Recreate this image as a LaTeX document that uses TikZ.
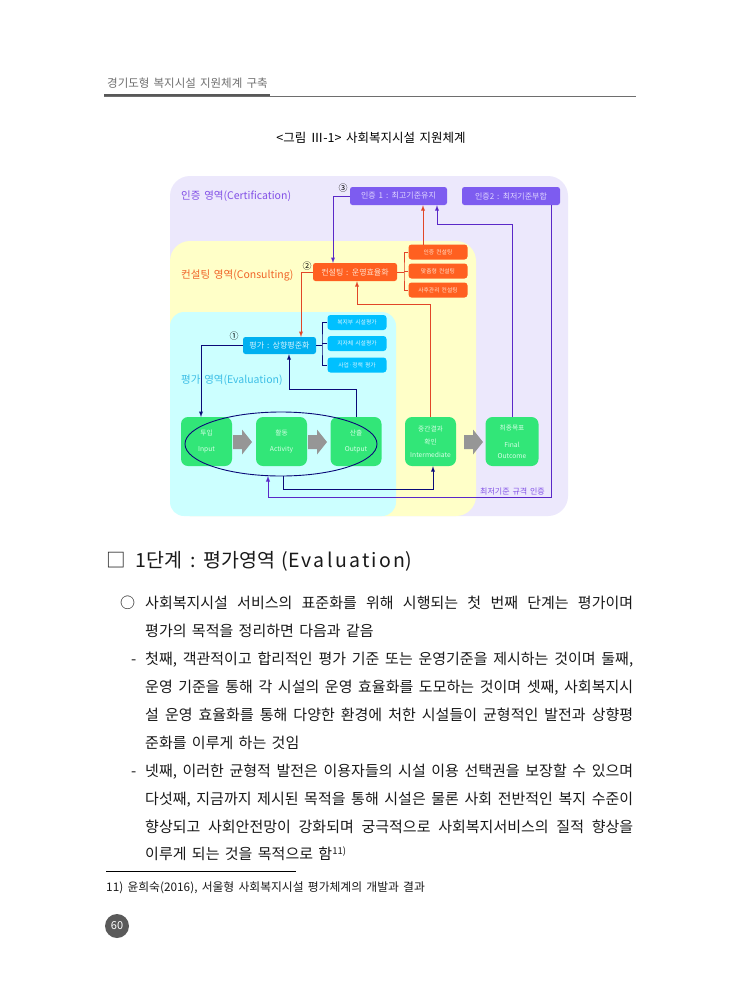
\documentclass[tikz,border=0pt]{standalone}
\usepackage{fontspec}
\setmainfont{Noto Sans CJK KR}[WordSpace={1.6,2,2}]
\usetikzlibrary{shapes.geometric}
\definecolor{certbg}{RGB}{236,232,252}
\definecolor{consbg}{RGB}{255,255,200}
\definecolor{evalbg}{RGB}{204,255,255}
\definecolor{certfill}{RGB}{125,92,240}
\definecolor{consfill}{RGB}{255,96,32}
\definecolor{evalfill}{RGB}{0,176,240}
\definecolor{subevalfill}{RGB}{0,192,255}
\definecolor{stagefill}{RGB}{50,230,120}
\definecolor{certpale}{RGB}{225,215,255}
\definecolor{conspale}{RGB}{255,225,205}
\definecolor{evalpale}{RGB}{215,245,255}
\definecolor{stagepale}{RGB}{215,255,230}
\definecolor{certtext}{RGB}{130,80,230}
\definecolor{constext}{RGB}{240,100,40}
\definecolor{evaltext}{RGB}{60,190,230}
\definecolor{certink}{RGB}{90,40,200}
\definecolor{consink}{RGB}{225,70,40}
\definecolor{navy}{RGB}{10,10,120}
\definecolor{arrowgray}{RGB}{150,150,150}
\definecolor{headgray}{RGB}{110,110,110}
\definecolor{pagegray}{RGB}{90,90,90}
\tikzset{
	arealabel/.style={anchor=west, inner sep=0, font=\fontsize{10.5}{12}\selectfont},
	mainbox/.style={rounded corners=2.5, inner sep=0, minimum height=18, font=\fontsize{8}{9}\selectfont},
	subbox/.style={rounded corners=3, inner sep=0, minimum width=59, minimum height=15, font=\fontsize{5.8}{7}\selectfont},
	stagebox/.style={rounded corners=7, inner sep=0, fill=stagefill, text=stagepale, minimum width=51, minimum height=49, align=center, font=\fontsize{6.7}{8}\selectfont},
	certline/.style={certink, line width=0.9},
	consline/.style={consink, line width=0.9},
	evalline/.style={navy, line width=0.9},
	bodytext/.style={anchor=base west, inner sep=0, text=black!90, font=\fontsize{15}{17}\selectfont},
}

\begin{document}
\begin{tikzpicture}[x=1pt,y=-1pt]
	\useasboundingbox (0,0) rectangle (741,1005);
	\fill[white] (0,0) rectangle (741,1005);
	% page header
	\node[anchor=west, inner sep=0, text=headgray, font=\fontsize{11.5}{13}\selectfont] (runhead) at (107,83) {경기도형 복지시설 지원체계 구축};
	\draw[headgray, line width=0.8] (104,96) -- (636,96);
	\draw[headgray!80!black, line width=2.5] (104,95) -- (270,95);
	% caption
	\node[inner sep=0, font=\fontsize{12.5}{14}\selectfont] (caption) at (371,138) {<그림 Ⅲ-1> 사회복지시설 지원체계};
	% areas
	\fill[certbg, rounded corners=20] (170,176) rectangle (568,516);
	\fill[consbg, rounded corners=20] (170,241) rectangle (476,516);
	\fill[evalbg, rounded corners=14] (170,312) rectangle (396,516);
	\node[arealabel, text=certtext] (certlabel) at (181,196) {인증 영역(Certification)};
	\node[arealabel, text=constext] (conslabel) at (181,275) {컨설팅 영역(Consulting)};
	\node[arealabel, text=evaltext] (evallabel) at (181,380) {평가 영역(Evaluation)};
	\node[anchor=west, inner sep=0, text=certtext, font=\fontsize{8}{9}\selectfont] (minlabel) at (480,491) {최저기준 규격 인증};
	% certification
	\node[mainbox, fill=certfill, text=certpale, minimum width=97] (cert1) at (398.5,196) {인증 1 : 최고기준유지};
	\node[mainbox, fill=certfill, text=certpale, minimum width=98] (cert2) at (511,196) {인증2 : 최저기준부합};
	\node[inner sep=0, font=\fontsize{9}{9}\selectfont] (n3) at (343,188) {③};
	% consulting
	\node[mainbox, fill=consfill, text=conspale, minimum width=84] (cons) at (355,272) {컨설팅 : 운영효율화};
	\node[subbox, fill=consfill, text=conspale] (consA) at (438,252) {인증 컨설팅};
	\node[subbox, fill=consfill, text=conspale] (consB) at (438,271) {맞춤형 컨설팅};
	\node[subbox, fill=consfill, text=conspale] (consC) at (438,290) {사후관리 컨설팅};
	\node[inner sep=0, font=\fontsize{9}{9}\selectfont] (n2) at (307,266) {②};
	% evaluation
	\node[mainbox, fill=evalfill, text=evalpale, minimum width=73, minimum height=17] (eval) at (279.5,345.5) {평가 : 상향평준화};
	\node[subbox, fill=subevalfill, text=evalpale] (evalA) at (357,322.5) {복지부 시설평가};
	\node[subbox, fill=subevalfill, text=evalpale] (evalB) at (357,343.5) {지자체 시설평가};
	\node[subbox, fill=subevalfill, text=evalpale] (evalC) at (357,365) {사업·정책 평가};
	\node[inner sep=0, font=\fontsize{9}{9}\selectfont] (n1) at (234,336) {①};
	% stages
	\node[stagebox] (input) at (206.5,441.5) {투입\\[8pt]Input};
	\node[stagebox] (activity) at (281.5,441.5) {활동\\[8pt]Activity};
	\node[stagebox] (output) at (356,441.5) {산출\\[8pt]Output};
	\node[stagebox] (inter) at (430.5,441.5) {중간결과\\[5pt]확인\\[5pt]Intermediate};
	\node[stagebox, minimum width=53] (final) at (512,441.5) {최종목표\\[9pt]Final\\[3pt]Outcome};
	\foreach \ax in {233,308,464}
		\fill[arrowgray] (\ax,435) -- ++(9,0) -- ++(0,-5.5) -- ++(10,12.5) -- ++(-10,12.5) -- ++(0,-5.5) -- ++(-9,0) -- cycle;
	\node[draw=navy, line width=0.9, ellipse, inner sep=0, minimum width=192, minimum height=64] (loop) at (281,444) {};
	% connectors
	\coordinate (c3) at (333,263);
	\coordinate (r1) at (423,244.5);
	\coordinate (b1) at (437,224);
	\coordinate (p1) at (551,205);
	\coordinate (p2) at (268,497);
	\coordinate (p3) at (268,476);
	\coordinate (ck) at (404,272);
	\coordinate (r2) at (301,337);
	\coordinate (r3) at (357,304);
	\coordinate (ek) at (322,345.5);
	\coordinate (e1) at (201,417);
	\coordinate (e2) at (289,389);
	\coordinate (e3) at (283,476);
	\coordinate (e4) at (433,489);
	\draw[certline,-latex] (cert1.west) -| (c3);
	\draw[consline,-latex] (r1) -- (r1 |- cert1.south);
	\draw[certline,-latex] (final.north) |- (b1) -- (b1 |- cert1.south);
	\draw[certline,-latex] (p1) |- (p2) -- (p3);
	\draw[consline] (cons.east) -- (ck);
	\draw[consline] (consA.west) -| (ck) |- (consC.west);
	\draw[consline] (consB.west) -- (consB.west -| ck);
	\draw[consline,-latex] (cons.west) -| (r2);
	\draw[consline,-latex] (inter.north) |- (r3) -- (r3 |- cons.south);
	\draw[evalline] (eval.east) -- (ek);
	\draw[evalline] (evalA.west) -| (ek) |- (evalC.west);
	\draw[evalline] (evalB.west) -- (evalB.west -| ek);
	\draw[evalline,-latex] (eval.west) -| (e1);
	\draw[evalline,-latex] (output.north) |- (e2) -- (e2 |- eval.south);
	\draw[evalline,-latex] (e3) |- (e4) -- (e4 |- inter.south);
	% body text
	\node[anchor=base west, inner sep=0, text=black!90, font=\fontsize{19.5}{21}\selectfont] (stage1) at (106,567) {□\hspace{10pt}1단계\hspace{8pt}:\hspace{8pt}평가영역\hspace{6pt}({\addfontfeature{LetterSpace=12}Evaluation})};
	\node[bodytext] (m0) at (120,608) {○};
	\node[bodytext] (l0) at (145,608) {\makebox[488pt][s]{사회복지시설 서비스의 표준화를 위해 시행되는 첫 번째 단계는 평가이며}};
	\node[bodytext] (l1) at (145,636) {평가의 목적을 정리하면 다음과 같음};
	\node[bodytext] (m2) at (131,664) {-};
	\node[bodytext] (l2) at (145,664) {\makebox[488pt][s]{첫째, 객관적이고 합리적인 평가 기준 또는 운영기준을 제시하는 것이며 둘째,}};
	\node[bodytext] (l3) at (145,692) {\makebox[488pt][s]{운영 기준을 통해 각 시설의 운영 효율화를 도모하는 것이며 셋째, 사회복지시}};
	\node[bodytext] (l4) at (145,720) {\makebox[488pt][s]{설 운영 효율화를 통해 다양한 환경에 처한 시설들이 균형적인 발전과 상향평}};
	\node[bodytext] (l5) at (145,748) {준화를 이루게 하는 것임};
	\node[bodytext] (m6) at (131,776) {-};
	\node[bodytext] (l6) at (145,776) {\makebox[488pt][s]{넷째, 이러한 균형적 발전은 이용자들의 시설 이용 선택권을 보장할 수 있으며}};
	\node[bodytext] (l7) at (145,804) {\makebox[488pt][s]{다섯째, 지금까지 제시된 목적을 통해 시설은 물론 사회 전반적인 복지 수준이}};
	\node[bodytext] (l8) at (145,832) {\makebox[488pt][s]{향상되고 사회안전망이 강화되며 궁극적으로 사회복지서비스의 질적 향상을}};
	\node[bodytext] (l9) at (145,859) {이루게 되는 것을 목적으로 함\raisebox{5pt}{\fontsize{9.5}{9.5}\selectfont 11)}};
	% footnote
	\draw[line width=0.7] (106,871) -- (296,871);
	\node[anchor=base west, inner sep=0, text=black!90, font=\fontsize{11.8}{13}\selectfont] (fn) at (106,891) {11) 윤희숙(2016), 서울형 사회복지시설 평가체계의 개발과 결과};
	\node[circle, fill=pagegray, text=white, inner sep=0, minimum size=24, font=\fontsize{11}{12}\selectfont] (pageno) at (117,926) {60};
\end{tikzpicture}
\end{document}
